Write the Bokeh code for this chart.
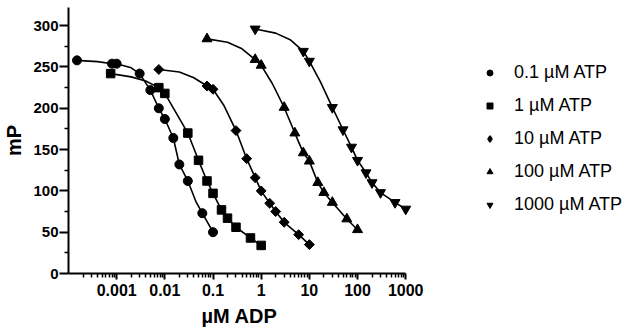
from bokeh.plotting import figure
from bokeh.models import FixedTicker, CustomJSTickFormatter, Legend, LegendItem, Range1d, Title
from bokeh.embed import file_html
from bokeh.resources import INLINE
import math

# ---- data ----
series_labels = ["0.1 µM ATP", "1 µM ATP", "10 µM ATP", "100 µM ATP", "1000 µM ATP"]

adp_01 = [0.00015, 0.0008, 0.001, 0.003, 0.005, 0.0075, 0.01, 0.015, 0.02, 0.03, 0.06, 0.1]
mp_01 = [258, 254, 254, 242, 222, 200, 187, 164, 132, 112, 73, 50]
curve_x_01 = [0.0004, 0.002, 0.045]
curve_y_01 = [256.5, 249, 86]

adp_1 = [0.00075, 0.0075, 0.01, 0.03, 0.05, 0.075, 0.1, 0.15, 0.2, 0.3, 0.6, 1]
mp_1 = [242, 225, 218, 170, 137, 112, 97, 77, 67, 56, 43, 34]
curve_x_1 = [0.002, 0.004]
curve_y_1 = [238, 233]

adp_10 = [0.0075, 0.075, 0.1, 0.3, 0.5, 0.75, 1, 1.5, 2, 3, 6, 10]
mp_10 = [247, 227, 223, 173, 139, 116, 100, 85, 75, 62, 47, 35]
curve_x_10 = [0.02, 0.04, 0.17]
curve_y_10 = [244, 237, 203]

adp_100 = [0.075, 0.75, 1, 3, 5, 7.5, 10, 15, 20, 30, 60, 100]
mp_100 = [284, 259, 252, 201, 170, 146, 136, 110, 98, 86, 66, 53]
curve_x_100 = [0.2, 0.4, 1.7]
curve_y_100 = [280, 272, 230]

adp_1000 = [0.75, 7.5, 10, 30, 50, 75, 100, 150, 200, 300, 600, 1000]
mp_1000 = [296, 269, 257, 201, 174, 153, 137, 122, 110, 98, 86, 78]
curve_x_1000 = [2, 4, 17]
curve_y_1000 = [291, 283, 232]

x_ticks = [0.001, 0.01, 0.1, 1, 10, 100, 1000]
y_ticks = [0, 50, 100, 150, 200, 250, 300]

FONT = "Liberation Sans"

# frame spans the whole right side so the legend sits inside it;
# the x axis itself is bounded to 1e-4 .. 1e3
p = figure(width=625, height=333, x_axis_type="log",
           x_range=Range1d(1e-4, 10 ** 7.563), y_range=Range1d(0, 322),
           output_backend="svg", toolbar_location=None,
           min_border_left=65, min_border_right=0,
           min_border_top=7, min_border_bottom=60)
p.outline_line_color = None
p.xgrid.visible = False
p.ygrid.visible = False
p.background_fill_color = "white"
p.border_fill_color = "white"

series = [
    (adp_01, mp_01, curve_x_01, curve_y_01, "circle", 9, 0.0, "circle"),
    (adp_1, mp_1, curve_x_1, curve_y_1, "square", 8.5, 0.0, "square"),
    (adp_10, mp_10, curve_x_10, curve_y_10, "square", 7, math.pi / 4, "diamond"),
    (adp_100, mp_100, curve_x_100, curve_y_100, "triangle", 10, 0.0, "triangle"),
    (adp_1000, mp_1000, curve_x_1000, curve_y_1000, "inverted_triangle", 10, 0.0, "inverted_triangle"),
]

items = []
for (xs, ys, cx, cy, marker, size, ang, leg_marker), lab in zip(series, series_labels):
    pts = sorted(list(zip(xs, ys)) + list(zip(cx, cy)))
    p.line([a for a, b in pts], [b for a, b in pts], line_color="black", line_width=1.6)
    r = p.scatter(xs, ys, marker=marker, size=size, angle=ang,
                  fill_color="black", line_color="black")
    if leg_marker != marker:
        # legend swatch only (same data, not drawn in the plot)
        r = p.scatter(xs, ys, marker=leg_marker, size=size,
                      fill_color="black", line_color="black", line_width=1.5, visible=False)
    items.append(LegendItem(label=lab, renderers=[r]))

legend = Legend(items=items, location=(414, 58),
                glyph_width=15, glyph_height=15, label_height=22, spacing=11,
                label_standoff=17, padding=0, margin=0,
                border_line_color=None, background_fill_alpha=0,
                label_text_font=FONT, label_text_font_size="18px",
                label_text_color="black", click_policy="none")
p.add_layout(legend, "center")

xa = p.xaxis[0]
ya = p.yaxis[0]
xa.bounds = (1e-4, 1e3)
xa.ticker = FixedTicker(ticks=x_ticks,
                        minor_ticks=[m * 10.0 ** e for e in range(-4, 3) for m in range(2, 10)])
xa.formatter = CustomJSTickFormatter(code="return tick.toString()")
ya.ticker = FixedTicker(ticks=y_ticks, minor_ticks=[25, 75, 125, 175, 225, 275])

for ax in (xa, ya):
    ax.axis_line_width = 2
    ax.axis_line_color = "black"
    ax.major_tick_line_width = 2
    ax.minor_tick_line_width = 1.5
    ax.major_tick_line_color = "black"
    ax.minor_tick_line_color = "black"
    ax.major_tick_in = 0
    ax.minor_tick_in = 0
    ax.major_label_text_font = FONT
    ax.major_label_text_font_style = "bold"
    ax.major_label_text_color = "black"

xa.major_label_text_font_size = "16px"
xa.major_tick_out = 6
xa.minor_tick_out = 4
xa.major_label_standoff = 4

ya.major_label_text_font_size = "15px"
ya.major_tick_out = 9
ya.minor_tick_out = 4
ya.major_label_standoff = 1
ya.axis_label = "mP"
ya.axis_label_standoff = 5
ya.axis_label_text_font = FONT
ya.axis_label_text_font_style = "bold"
ya.axis_label_text_font_size = "20px"
ya.axis_label_text_color = "black"

# x axis title, centred under the bounded axis (1e-4 .. 1e3)
x_title = Title(text="µM ADP", align="left", offset=133, standoff=8,
                vertical_align="bottom", text_font=FONT, text_font_style="bold",
                text_font_size="20px", text_color="black")
p.add_layout(x_title, "below")

open("out.html", "w").write(file_html(p, INLINE))
